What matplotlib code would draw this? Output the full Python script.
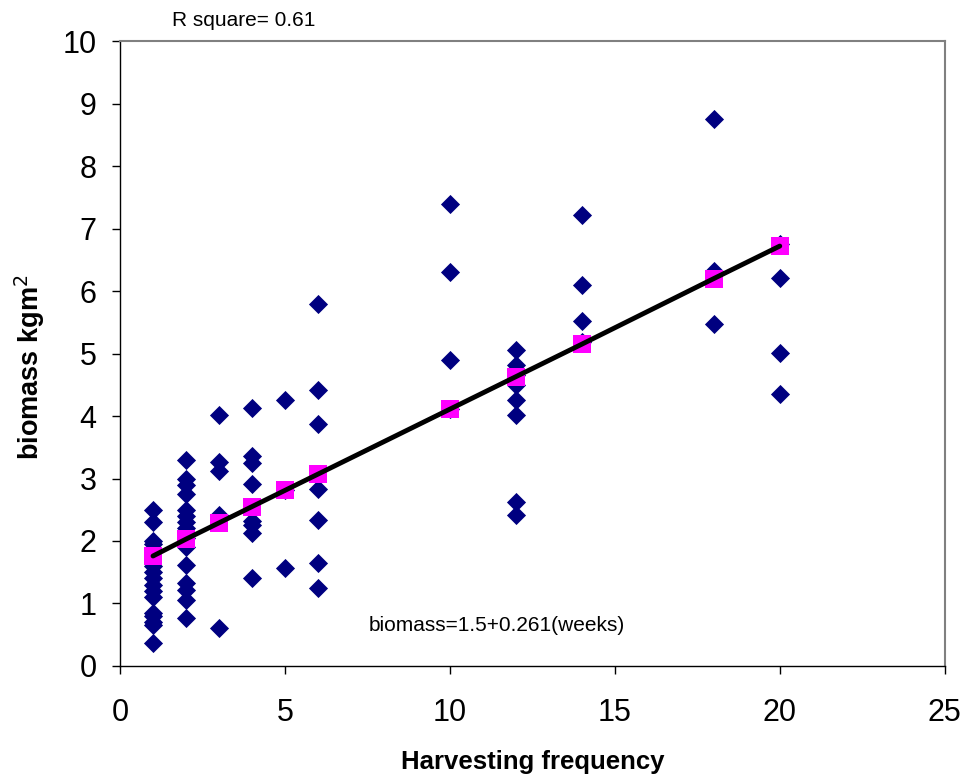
import matplotlib.pyplot as plt
import numpy as np

plt.rcParams['font.family'] = ['Liberation Sans', 'DejaVu Sans']

# harvesting frequency (weeks) and observed biomass
weeks = [1]*15 + [2]*15 + [3]*5 + [4]*8 + [5]*3 + [6]*7 + [10]*4 + [12]*8 + [14]*4 + [18]*3 + [20]*4
biomass = [2.5, 2.3, 2.0, 1.95, 1.6, 1.5, 1.4, 1.3, 1.2, 1.1, 0.85, 0.8, 0.7, 0.65, 0.37,
           3.3, 3.0, 2.9, 2.75, 2.5, 2.4, 2.3, 2.2, 2.05, 1.9, 1.62, 1.32, 1.22, 1.05, 0.76,
           4.02, 3.26, 3.12, 2.42, 0.6,
           4.13, 3.36, 3.25, 2.92, 2.32, 2.25, 2.12, 1.4,
           4.25, 2.82, 1.56,
           5.8, 4.41, 3.88, 2.83, 2.34, 1.64, 1.24,
           7.4, 6.3, 4.9, 4.12,
           5.05, 4.82, 4.65, 4.5, 4.26, 4.02, 2.62, 2.41,
           7.21, 6.1, 5.52, 5.18,
           8.76, 6.32, 5.48,
           6.75, 6.21, 5.01, 4.36]

# fitted values (magenta squares)
fit_x = [1, 2, 3, 4, 5, 6, 10, 12, 14, 18, 20]
fit_y = [1.76, 2.03, 2.29, 2.55, 2.81, 3.07, 4.11, 4.63, 5.15, 6.2, 6.72]

fig = plt.figure(figsize=(9.64, 7.76), dpi=100)
ax = fig.add_axes([0.1245, 0.1418, 0.8555, 0.8052])

ax.scatter(weeks, biomass, marker='D', s=95, color='#000080', zorder=2, linewidths=0)
ax.plot(fit_x, fit_y, color='black', lw=3.5, zorder=3, solid_capstyle='round')
ax.scatter(fit_x, fit_y, marker='s', s=150, color='#FF00FF', zorder=2, linewidths=0)

ax.set_xlim(0, 25)
ax.set_ylim(0, 10)
ax.set_xticks(np.arange(0, 26, 5))
ax.set_yticks(np.arange(0, 11, 1))
ax.tick_params(labelsize=22, direction='out', length=6, width=1)
ax.tick_params(axis='x', pad=17)
ax.tick_params(axis='y', pad=11)

for s in ['top', 'right']:
    ax.spines[s].set_color('#808080')
    ax.spines[s].set_linewidth(1.5)
for s in ['left', 'bottom']:
    ax.spines[s].set_color('black')
    ax.spines[s].set_linewidth(1)

ax.set_xlabel('Harvesting frequency', fontsize=18.5, fontweight='bold', labelpad=16)
ax.set_ylabel('biomass kgm$^2$', fontsize=19.5, fontweight='bold')
ax.yaxis.set_label_coords(-0.088, 0.478)

ax.text(0.0636, 1.018, 'R square= 0.61', transform=ax.transAxes, fontsize=15, va='bottom')
ax.text(7.55, 0.65, 'biomass=1.5+0.261(weeks)', fontsize=15, va='center')

plt.savefig('out.png', dpi=100)
